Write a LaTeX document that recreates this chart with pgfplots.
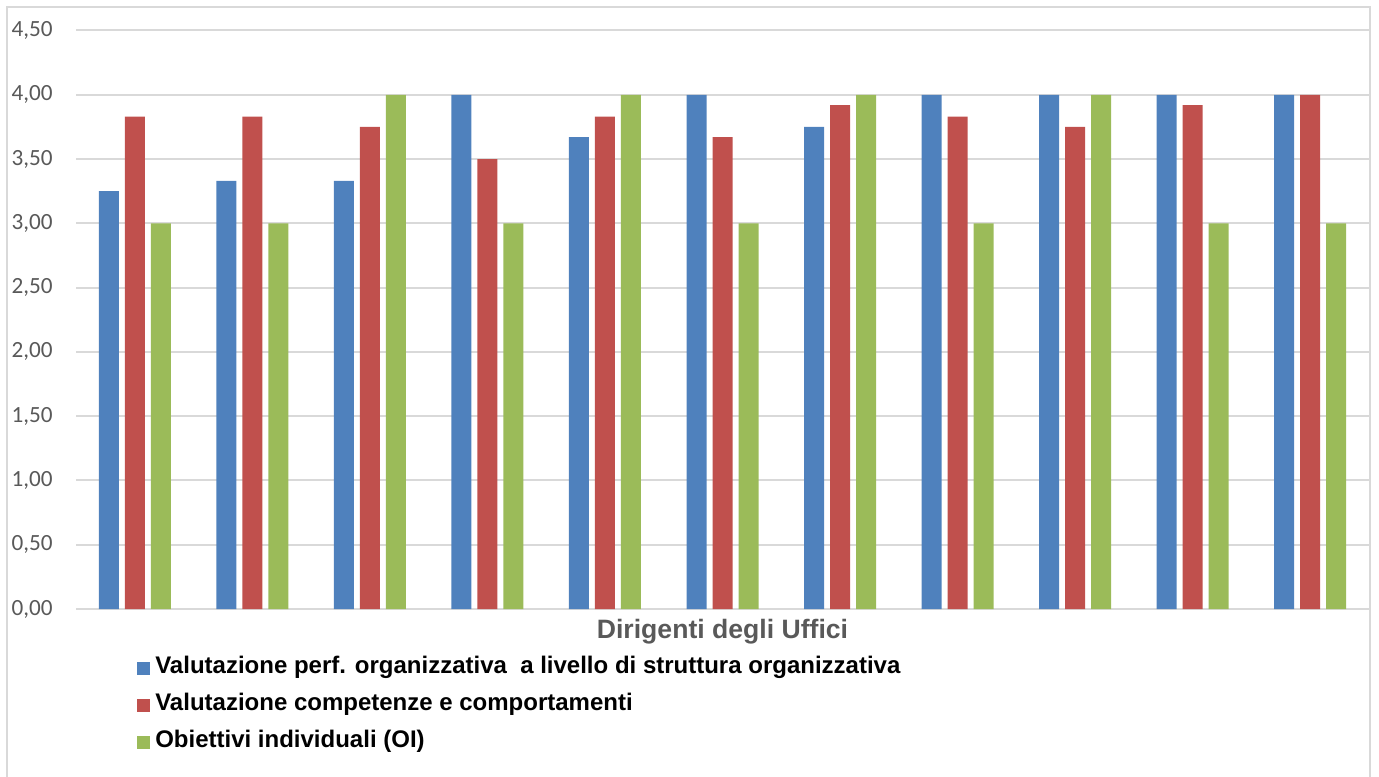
\documentclass[border=0pt]{standalone}
\usepackage{pgfplots}
\pgfplotsset{compat=1.18}
\usepackage{fontspec}
\setmainfont{Liberation Sans}
\newfontfamily\tickfont{Carlito}
\definecolor{cblue}{HTML}{4F81BD}
\definecolor{cred}{HTML}{C0504D}
\definecolor{cgreen}{HTML}{9BBB59}
\definecolor{cgrid}{HTML}{D9D9D9}
\definecolor{ctext}{HTML}{595959}
\begin{document}
\begin{tikzpicture}
\useasboundingbox (-38pt,-83.5pt) rectangle (651.5pt,304.5pt);
\draw[cgrid, line width=1pt] (-34.5pt,-90pt) -- (-34.5pt,301pt) -- (647pt,301pt) -- (647pt,-90pt);
\begin{axis}[
  at={(0,0)}, anchor=south west,
  scale only axis,
  width=646.5pt, height=289.25pt,
  ybar, bar width=10pt, ybar=3pt,
  xmin=-0.5, xmax=10.5,
  ymin=0, ymax=4.5,
  xtick=\empty,
  ytick={0,0.5,...,4.5},
  ymajorgrids,
  grid style={cgrid, line width=1pt},
  axis line style={draw=none},
  major tick length=0pt,
  tick style={draw=none},
  yticklabel style={font=\tickfont\fontsize{11.6}{13}\selectfont, text=ctext, anchor=east, inner sep=0pt, xshift=-11.5pt},
  /pgf/number format/.cd, use comma, fixed, fixed zerofill, precision=2, assume math mode=true,
  /pgfplots/.cd,
  xlabel={Dirigenti degli Uffici},
  xlabel style={at={(axis description cs:0.5,-0.0398)}, anchor=center, font=\fontsize{13.3}{15}\selectfont\bfseries, text=ctext, inner sep=0pt},
  legend style={at={(axis description cs:0.0471,-0.0856)}, anchor=north west, draw=none, fill=none,
    font=\fontsize{12}{14}\selectfont\bfseries, row sep=9pt, inner sep=0pt,
    nodes={inner xsep=2.5pt, inner ysep=0pt, text height=7.5pt, text depth=2pt}},
  legend cell align=left,
  legend image code/.code={\fill[#1] (0pt,-3.25pt) rectangle (6.5pt,3.25pt);},
]
\addplot[fill=cblue, draw=none] coordinates {(0,3.25) (1,3.33) (2,3.33) (3,4.00) (4,3.67) (5,4.00) (6,3.75) (7,4.00) (8,4.00) (9,4.00) (10,4.00)};
\addplot[fill=cred, draw=none] coordinates {(0,3.83) (1,3.83) (2,3.75) (3,3.50) (4,3.83) (5,3.67) (6,3.92) (7,3.83) (8,3.75) (9,3.92) (10,4.00)};
\addplot[fill=cgreen, draw=none] coordinates {(0,3.00) (1,3.00) (2,4.00) (3,3.00) (4,4.00) (5,3.00) (6,4.00) (7,3.00) (8,4.00) (9,3.00) (10,3.00)};
\legend{Valutazione perf. organizzativa\ \ a livello di struttura organizzativa, Valutazione competenze e comportamenti, Obiettivi individuali (OI)}
\end{axis}
\end{tikzpicture}
\end{document}
